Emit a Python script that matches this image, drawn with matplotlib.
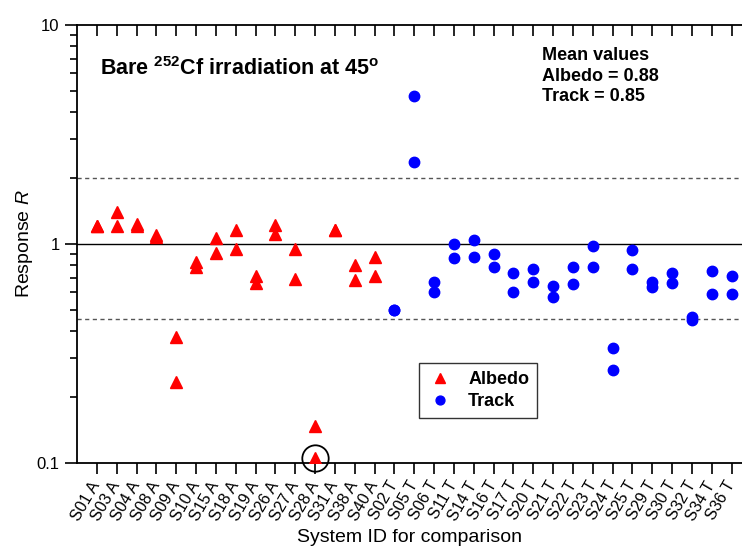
import numpy as np
import matplotlib
matplotlib.use("Agg")
import matplotlib.pyplot as plt

plt.rcParams['font.family'] = ['Liberation Sans', 'DejaVu Sans']
plt.rcParams['mathtext.fontset'] = 'custom'
plt.rcParams['mathtext.rm'] = 'Liberation Sans'
plt.rcParams['mathtext.it'] = 'Liberation Sans:italic'
plt.rcParams['mathtext.bf'] = 'Liberation Sans:bold'

# systemes albedo (A) puis trace (T), deux mesures par systeme
albedo_ids = ["S01", "S03", "S04", "S08", "S09", "S10", "S15", "S18", "S19",
              "S26", "S27", "S28", "S31", "S38", "S40"]
track_ids = ["S02", "S05", "S06", "S11", "S14", "S16", "S17", "S20", "S21",
             "S22", "S23", "S24", "S25", "S29", "S30", "S32", "S34", "S36"]

albedo_r1 = [1.21, 1.39, 1.23, 1.10, 0.377, 0.822, 1.06, 1.155, 0.71, 1.22, 0.946, 0.148, 1.158, 0.80, 0.875]
albedo_r2 = [1.21, 1.21, 1.20, 1.07, 0.235, 0.783, 0.907, 0.952, 0.666, 1.107, 0.69, 0.105, 1.158, 0.686, 0.714]

track_r1 = [0.50, 4.74, 0.668, 1.00, 1.04, 0.898, 0.737, 0.769, 0.641, 0.783, 0.982, 0.335, 0.942, 0.67, 0.735, 0.466, 0.748, 0.714]
track_r2 = [0.50, 2.36, 0.602, 0.866, 0.87, 0.785, 0.602, 0.668, 0.571, 0.655, 0.787, 0.266, 0.766, 0.634, 0.666, 0.447, 0.589, 0.591]

upper_lim = 2.0
lower_lim = 0.455
flagged = ("S28", 0.105)   # point entoure

labels = [s + " A" for s in albedo_ids] + [s + " T" for s in track_ids]
xa = np.arange(1, len(albedo_ids) + 1)
xt = np.arange(len(albedo_ids) + 1, len(labels) + 1)

fig = plt.figure(figsize=(7.42, 5.49), dpi=100)
ax = fig.add_axes([0.1038, 0.1567, 0.8962, 0.7983])

ax.axhline(1.0, color='black', lw=1.0, zorder=1)
ax.axhline(upper_lim, color='#555555', lw=1.0, ls=(0, (3, 2.5)), zorder=1)
ax.axhline(lower_lim, color='#555555', lw=1.0, ls=(0, (3, 2.5)), zorder=1)

ax.plot(xa, albedo_r1, ls='none', marker='^', color='red', ms=9, label='Albedo', zorder=3)
ax.plot(xa, albedo_r2, ls='none', marker='^', color='red', ms=9, zorder=3)
ax.plot(xt, track_r1, ls='none', marker='o', color='blue', ms=7.5, label='Track', zorder=3)
ax.plot(xt, track_r2, ls='none', marker='o', color='blue', ms=7.5, zorder=3)

xf = albedo_ids.index(flagged[0]) + 1
ax.plot([xf], [flagged[1]], ls='none', marker='o', mfc='none', mec='black', mew=1.3, ms=19,
        zorder=4, clip_on=False)

ax.set_yscale('log')
ax.set_ylim(0.1, 10)
ax.set_xlim(0, len(labels) + 0.52)
ax.set_yticks([0.1, 1, 10])
ax.set_yticklabels(["0.1", "1", "10"])
ax.set_xticks(np.arange(1, len(labels) + 1))
ax.set_xticklabels(labels, rotation=60, ha='right', va='center', rotation_mode='anchor')

ax.tick_params(axis='y', which='major', direction='out', length=9, width=1.2, labelsize=12)
ax.tick_params(axis='y', which='minor', direction='out', length=5, width=1.2)
ax.tick_params(axis='x', which='major', direction='out', length=8, width=1.2, labelsize=11.5,
               top=True, pad=6)
ax.tick_params(axis='x', which='minor', bottom=False, top=False)
ax.spines['right'].set_visible(False)
for s in ['left', 'bottom', 'top']:
    ax.spines[s].set_linewidth(1.3)

# ticks du haut vers l'interieur
for t in ax.xaxis.get_major_ticks():
    t.tick2line.set_marker(3)

ax.set_ylabel(r"Response $\mathit{R}$", fontsize=14, labelpad=1)
ax.set_xlabel("System ID for comparison", fontsize=14, labelpad=4)

ax.text(0.035, 0.885, r"Bare $\mathbf{^{252}}$Cf irradiation at 45$\mathbf{^{o}}$",
        transform=ax.transAxes, fontsize=15.5, fontweight='bold')
ax.text(0.699, 0.948, "Mean values\nAlbedo = 0.88\nTrack = 0.85", transform=ax.transAxes,
        fontsize=13, fontweight='bold', va='top', linespacing=1.25)

leg = ax.legend(loc='upper left', bbox_to_anchor=(0.5, 0.248), frameon=True, fancybox=False,
                edgecolor='black', handletextpad=0.8, borderpad=0.45, handlelength=1.5,
                markerscale=0.85, labelspacing=0.25, prop={'weight': 'bold', 'size': 13})
leg.get_frame().set_linewidth(1.0)

fig.savefig("out.png", dpi=100)
